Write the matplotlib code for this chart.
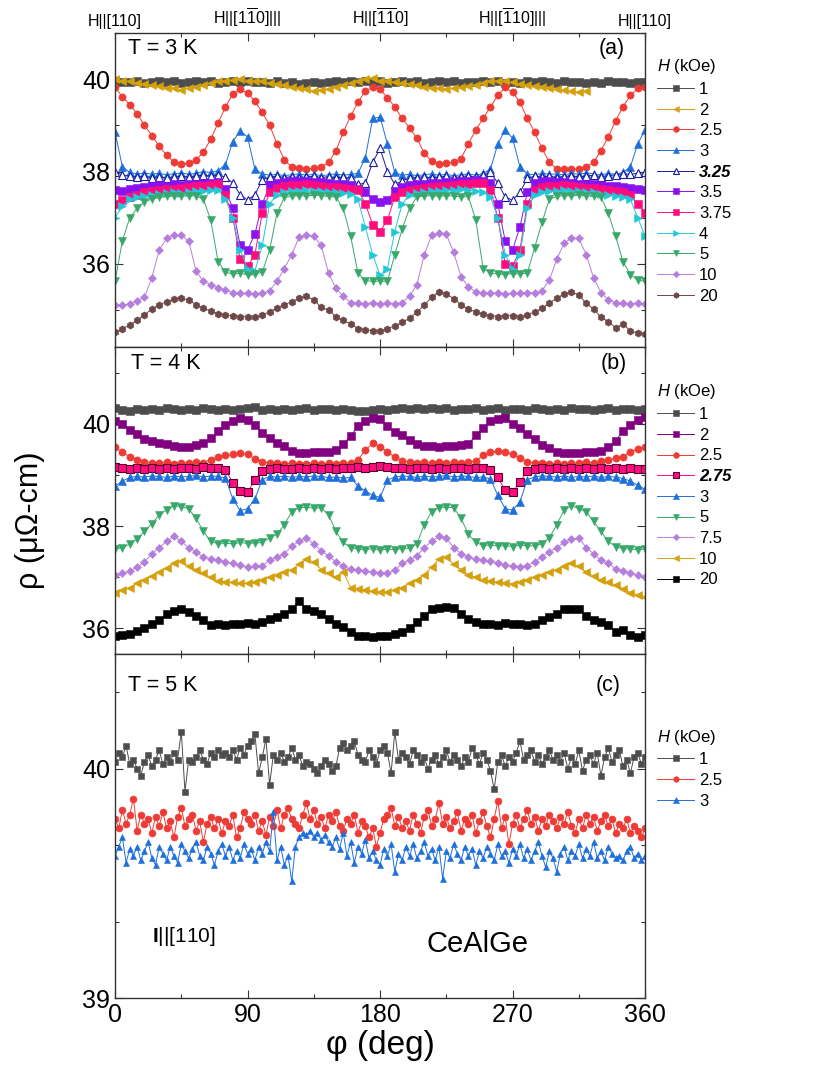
import matplotlib.pyplot as plt
import numpy as np
from matplotlib.ticker import MultipleLocator, AutoMinorLocator

plt.rcParams['font.family'] = 'Liberation Sans'
plt.rcParams['mathtext.fontset'] = 'custom'
plt.rcParams['mathtext.rm'] = 'Liberation Sans'
plt.rcParams['mathtext.it'] = 'Liberation Sans:italic'
plt.rcParams['mathtext.bf'] = 'Liberation Sans:bold'

phi = np.arange(0, 361, 5)
phi_short = np.arange(0, 321, 5)  # 2 kOe run at 3 K stops near 320 deg
phi_fine = np.arange(0, 360.1, 2.5)  # 5 K runs, read on a finer step

top_labels = ["H||[110]", r"H||[1$\overline{1}$0]|||", r"H||[$\overline{11}$0]",
              r"H||[$\overline{1}$10]|||", "H||[110]"]

# ---------------- T = 3 K ----------------
a_1 = [39.96, 39.94, 39.93, 39.95, 39.92, 39.94, 39.97, 39.93, 39.95, 39.92,
       39.94, 39.96, 39.93, 39.95, 39.92, 39.94, 39.97, 39.93, 39.95, 39.93,
       39.94, 39.92, 39.95, 39.91, 39.93, 39.90, 39.92, 39.94, 39.91, 39.93,
       39.95, 39.93, 39.96, 39.94, 39.97, 39.93, 39.95, 39.92, 39.94, 39.96,
       39.93, 39.95, 39.92, 39.94, 39.96, 39.93, 39.95, 39.92, 39.94, 39.93,
       39.96, 39.93, 39.95, 39.91, 39.94, 39.92, 39.95, 39.93, 39.96, 39.94,
       39.92, 39.95, 39.93, 39.94, 39.91, 39.94, 39.92, 39.95, 39.93, 39.94,
       39.92, 39.94, 39.93]
a_2 = [40.00, 39.97, 39.95, 39.92, 39.90, 39.87, 39.85, 39.81, 39.80, 39.77,
       39.80, 39.83, 39.88, 39.91, 39.95, 39.97, 39.98, 40.01, 39.97, 39.95,
       39.96, 39.92, 39.90, 39.87, 39.84, 39.80, 39.78, 39.75, 39.77, 39.79,
       39.84, 39.87, 39.92, 39.95, 40.00, 40.03, 39.97, 39.95, 39.94, 39.91,
       39.90, 39.87, 39.84, 39.81, 39.80, 39.78, 39.80, 39.82, 39.85, 39.88,
       39.92, 39.95, 39.97, 39.95, 39.93, 39.90, 39.88, 39.85, 39.82, 39.80,
       39.78, 39.76, 39.74, 39.72, 39.74]
a_25 = [39.82, 39.62, 39.45, 39.25, 39.00, 38.78, 38.55, 38.35, 38.20, 38.16,
        38.18, 38.25, 38.42, 38.70, 39.05, 39.40, 39.68, 39.78, 39.70, 39.52,
        39.28, 39.00, 38.60, 38.25, 38.10, 38.07, 38.06, 38.07, 38.10, 38.20,
        38.45, 38.85, 39.20, 39.50, 39.75, 39.82, 39.78, 39.60, 39.40, 39.15,
        38.95, 38.72, 38.40, 38.22, 38.17, 38.18, 38.20, 38.28, 38.60, 38.90,
        39.15, 39.40, 39.65, 39.82, 39.72, 39.50, 39.15, 38.85, 38.50, 38.20,
        38.06, 38.05, 38.05, 38.06, 38.10, 38.20, 38.45, 38.75, 39.10, 39.40,
        39.65, 39.80, 39.84]
a_3 = [38.85, 38.10, 37.98, 37.95, 37.97, 37.94, 37.96, 37.93, 37.95, 37.97,
       37.94, 37.96, 38.00, 37.98, 38.02, 38.15, 38.65, 38.88, 38.75, 38.05,
       37.95, 37.92, 37.94, 37.91, 37.93, 37.95, 37.92, 37.94, 37.91, 37.93,
       37.95, 37.92, 37.94, 37.96, 38.30, 39.15, 39.18, 38.60, 37.98, 37.92,
       37.94, 37.91, 37.93, 37.95, 37.92, 37.94, 37.91, 37.93, 37.95, 37.92,
       37.96, 38.05, 38.60, 38.90, 38.72, 38.10, 37.95, 37.93, 37.96, 37.94,
       37.95, 37.93, 37.96, 37.94, 37.97, 37.95, 37.93, 37.96, 37.94, 37.98,
       38.10, 38.60, 38.90]
a_325 = [37.98, 37.93, 37.90, 37.88, 37.90, 37.87, 37.88, 37.86, 37.88, 37.90,
         37.88, 37.90, 37.92, 37.90, 37.92, 37.88, 37.75, 37.50, 37.38, 37.50,
         37.82, 37.88, 37.90, 37.87, 37.89, 37.86, 37.88, 37.90, 37.87, 37.89,
         37.86, 37.88, 37.85, 37.72, 37.75, 38.20, 38.50, 38.00, 37.72, 37.80,
         37.85, 37.87, 37.89, 37.86, 37.88, 37.90, 37.87, 37.89, 37.91, 37.88,
         37.92, 37.98, 37.75, 37.45, 37.38, 37.55, 37.85, 37.90, 37.88, 37.90,
         37.87, 37.89, 37.91, 37.88, 37.90, 37.92, 37.89, 37.91, 37.93, 37.95,
         37.94, 37.96, 37.98]
a_35 = [37.60, 37.58, 37.62, 37.64, 37.66, 37.68, 37.70, 37.69, 37.72, 37.71,
        37.73, 37.74, 37.75, 37.76, 37.78, 37.62, 37.20, 36.40, 36.30, 36.65,
        37.30, 37.70, 37.76, 37.78, 37.80, 37.79, 37.80, 37.78, 37.77, 37.76,
        37.74, 37.72, 37.70, 37.62, 37.55, 37.40, 37.35, 37.38, 37.58, 37.66,
        37.70, 37.72, 37.74, 37.75, 37.76, 37.78, 37.77, 37.79, 37.80, 37.81,
        37.80, 37.75, 37.30, 36.50, 36.30, 36.80, 37.55, 37.75, 37.80, 37.79,
        37.78, 37.77, 37.75, 37.74, 37.73, 37.72, 37.70, 37.69, 37.68, 37.66,
        37.64, 37.62, 37.60]
a_375 = [37.30, 37.38, 37.45, 37.50, 37.55, 37.57, 37.60, 37.62, 37.63, 37.65,
         37.66, 37.68, 37.69, 37.70, 37.72, 37.50, 37.00, 36.10, 35.95, 36.20,
         37.10, 37.55, 37.65, 37.68, 37.70, 37.71, 37.72, 37.70, 37.68, 37.67,
         37.66, 37.65, 37.63, 37.60, 37.30, 36.85, 36.70, 36.95, 37.45, 37.55,
         37.60, 37.62, 37.64, 37.66, 37.68, 37.69, 37.70, 37.72, 37.74, 37.75,
         37.75, 37.60, 37.00, 36.00, 35.95, 36.30, 37.30, 37.60, 37.66, 37.68,
         37.69, 37.70, 37.68, 37.66, 37.65, 37.64, 37.62, 37.60, 37.58, 37.55,
         37.50, 37.30, 37.10]
a_4 = [37.00, 37.25, 37.40, 37.45, 37.48, 37.50, 37.52, 37.53, 37.55, 37.54,
       37.56, 37.57, 37.58, 37.59, 37.60, 37.40, 37.00, 36.30, 35.90, 35.85,
       36.40, 37.30, 37.50, 37.55, 37.57, 37.58, 37.59, 37.58, 37.57, 37.56,
       37.55, 37.53, 37.52, 37.40, 36.80, 36.20, 35.75, 35.90, 36.70, 37.30,
       37.50, 37.53, 37.55, 37.57, 37.58, 37.60, 37.61, 37.62, 37.60, 37.58,
       37.55, 37.45, 37.00, 36.20, 35.90, 36.20, 37.20, 37.50, 37.55, 37.57,
       37.58, 37.59, 37.58, 37.57, 37.56, 37.55, 37.52, 37.50, 37.47, 37.44,
       37.40, 37.00, 36.60]
a_5 = [35.62, 36.50, 37.00, 37.20, 37.35, 37.40, 37.44, 37.46, 37.47, 37.46,
       37.48, 37.47, 37.40, 36.95, 36.05, 35.82, 35.78, 35.80, 35.76, 35.78,
       35.82, 36.30, 37.10, 37.44, 37.46, 37.48, 37.47, 37.49, 37.48, 37.46,
       37.45, 37.20, 36.60, 35.80, 35.64, 35.62, 35.63, 35.62, 36.20, 36.75,
       37.20, 37.45, 37.47, 37.48, 37.46, 37.48, 37.47, 37.45, 37.46, 36.95,
       35.90, 35.80, 35.78, 35.77, 35.79, 35.78, 35.80, 36.35, 36.90, 37.40,
       37.46, 37.48, 37.47, 37.49, 37.48, 37.46, 37.45, 37.10, 36.60, 36.05,
       35.77, 35.65, 35.62]
a_10 = [35.12, 35.10, 35.14, 35.20, 35.28, 35.70, 36.30, 36.55, 36.62, 36.62,
        36.50, 35.85, 35.62, 35.55, 35.48, 35.43, 35.38, 35.36, 35.37, 35.35,
        35.36, 35.42, 35.62, 35.90, 36.20, 36.58, 36.62, 36.60, 36.40, 35.80,
        35.47, 35.30, 35.16, 35.15, 35.14, 35.16, 35.13, 35.15, 35.14, 35.16,
        35.30, 35.55, 36.20, 36.62, 36.66, 36.64, 36.25, 35.72, 35.50, 35.40,
        35.37, 35.36, 35.38, 35.35, 35.37, 35.36, 35.38, 35.37, 35.42, 35.65,
        36.10, 36.45, 36.56, 36.55, 36.20, 35.70, 35.38, 35.22, 35.16, 35.15,
        35.14, 35.15, 35.13]
a_20 = [34.52, 34.60, 34.68, 34.78, 34.90, 35.02, 35.12, 35.18, 35.24, 35.26,
        35.22, 35.12, 35.04, 34.98, 34.92, 34.90, 34.87, 34.86, 34.85, 34.84,
        34.90, 34.96, 35.05, 35.12, 35.18, 35.26, 35.30, 35.22, 35.06, 35.00,
        34.86, 34.78, 34.70, 34.60, 34.57, 34.55, 34.54, 34.60, 34.66, 34.74,
        34.82, 34.96, 35.10, 35.28, 35.40, 35.35, 35.25, 35.12, 35.02, 34.96,
        34.92, 34.88, 34.86, 34.87, 34.88, 34.86, 34.90, 34.96, 35.04, 35.15,
        35.26, 35.35, 35.40, 35.32, 35.15, 35.02, 34.85, 34.75, 34.62, 34.70,
        34.55, 34.50, 34.48]

# ---------------- T = 4 K ----------------
b_1 = [40.30, 40.27, 40.25, 40.28, 40.26, 40.29, 40.27, 40.30, 40.28, 40.26,
       40.29, 40.27, 40.31, 40.28, 40.26, 40.29, 40.27, 40.28, 40.30, 40.32,
       40.26, 40.28, 40.27, 40.29, 40.26, 40.28, 40.30, 40.27, 40.29, 40.28,
       40.26, 40.29, 40.27, 40.25, 40.24, 40.26, 40.28, 40.27, 40.29, 40.30,
       40.28, 40.30, 40.29, 40.31, 40.28, 40.30, 40.27, 40.29, 40.28, 40.30,
       40.27, 40.29, 40.30, 40.26, 40.28, 40.29, 40.27, 40.30, 40.28, 40.26,
       40.29, 40.27, 40.30, 40.28, 40.29, 40.27, 40.28, 40.30, 40.27, 40.29,
       40.28, 40.27, 40.29]
b_2 = [40.05, 40.00, 39.88, 39.80, 39.70, 39.66, 39.62, 39.60, 39.57, 39.55,
       39.55, 39.58, 39.62, 39.72, 39.85, 39.98, 40.06, 40.11, 40.08, 39.98,
       39.82, 39.72, 39.62, 39.56, 39.46, 39.43, 39.42, 39.44, 39.45, 39.44,
       39.48, 39.60, 39.76, 39.95, 40.06, 40.11, 40.10, 39.95, 39.84, 39.78,
       39.68, 39.60, 39.57, 39.56, 39.55, 39.56, 39.57, 39.58, 39.60, 39.78,
       39.92, 40.05, 40.10, 40.11, 40.00, 39.92, 39.80, 39.70, 39.58, 39.52,
       39.45, 39.43, 39.42, 39.43, 39.44, 39.45, 39.47, 39.55, 39.67, 39.85,
       39.98, 40.08, 40.14]
b_25 = [39.54, 39.45, 39.35, 39.30, 39.26, 39.24, 39.23, 39.25, 39.22, 39.24,
        39.23, 39.25, 39.24, 39.30, 39.35, 39.38, 39.40, 39.42, 39.40, 39.32,
        39.26, 39.23, 39.24, 39.22, 39.23, 39.21, 39.22, 39.24, 39.22, 39.23,
        39.22, 39.24, 39.23, 39.30, 39.48, 39.62, 39.55, 39.45, 39.35, 39.28,
        39.26, 39.24, 39.25, 39.23, 39.26, 39.24, 39.25, 39.23, 39.26, 39.28,
        39.38, 39.44, 39.46, 39.45, 39.40, 39.33, 39.26, 39.23, 39.24, 39.22,
        39.23, 39.22, 39.24, 39.23, 39.25, 39.23, 39.28, 39.30, 39.33, 39.36,
        39.45, 39.50, 39.54]
b_275 = [39.15, 39.13, 39.12, 39.14, 39.11, 39.13, 39.12, 39.14, 39.12, 39.13,
         39.14, 39.12, 39.15, 39.13, 39.14, 39.10, 38.85, 38.68, 38.66, 38.90,
         39.08, 39.12, 39.13, 39.11, 39.12, 39.14, 39.12, 39.13, 39.11, 39.13,
         39.12, 39.14, 39.13, 39.15, 39.14, 39.16, 39.18, 39.15, 39.14, 39.13,
         39.12, 39.14, 39.13, 39.11, 39.13, 39.12, 39.14, 39.13, 39.12, 39.14,
         39.13, 39.10, 38.95, 38.70, 38.66, 38.86, 39.08, 39.12, 39.13, 39.11,
         39.13, 39.12, 39.14, 39.12, 39.13, 39.11, 39.13, 39.12, 39.14, 39.12,
         39.13, 39.11, 39.12]
b_3 = [38.78, 38.88, 38.95, 38.97, 38.96, 38.98, 38.97, 38.95, 38.98, 38.96,
       38.97, 38.99, 38.96, 38.98, 38.97, 38.94, 38.53, 38.30, 38.34, 38.53,
       38.91, 38.97, 38.96, 38.98, 38.95, 38.97, 38.96, 38.98, 38.97, 38.95,
       38.96, 38.94, 38.95, 38.78, 38.69, 38.60, 38.56, 38.90, 38.96, 38.98,
       38.97, 38.95, 38.98, 38.96, 38.97, 38.99, 38.96, 38.98, 38.97, 38.95,
       38.96, 38.92, 38.60, 38.34, 38.31, 38.47, 38.91, 38.96, 38.98, 38.97,
       38.96, 38.98, 38.95, 38.97, 38.96, 38.98, 38.95, 38.97, 38.96, 38.93,
       38.88, 38.80, 38.72]
b_5 = [37.55, 37.58, 37.65, 37.75, 37.90, 38.05, 38.22, 38.32, 38.40, 38.38,
       38.34, 38.15, 37.90, 37.70, 37.66, 37.67, 37.65, 37.68, 37.66, 37.67,
       37.68, 37.77, 37.84, 38.03, 38.28, 38.36, 38.37, 38.35, 38.36, 38.22,
       37.90, 37.68, 37.58, 37.55, 37.54, 37.56, 37.53, 37.55, 37.54, 37.56,
       37.57, 37.65, 38.03, 38.28, 38.36, 38.37, 38.36, 38.15, 37.84, 37.68,
       37.62, 37.63, 37.61, 37.62, 37.60, 37.63, 37.62, 37.61, 37.66, 37.77,
       38.03, 38.31, 38.40, 38.34, 38.28, 38.09, 37.90, 37.70, 37.60, 37.56,
       37.55, 37.54, 37.55]
b_75 = [37.05, 37.08, 37.12, 37.20, 37.30, 37.46, 37.58, 37.70, 37.80, 37.70,
        37.58, 37.49, 37.40, 37.36, 37.33, 37.30, 37.27, 37.24, 37.20, 37.22,
        37.23, 37.33, 37.40, 37.46, 37.61, 37.70, 37.77, 37.65, 37.52, 37.42,
        37.30, 37.22, 37.16, 37.14, 37.12, 37.10, 37.08, 37.08, 37.14, 37.27,
        37.33, 37.42, 37.58, 37.70, 37.80, 37.77, 37.58, 37.46, 37.40, 37.35,
        37.33, 37.31, 37.28, 37.24, 37.22, 37.21, 37.23, 37.30, 37.40, 37.49,
        37.58, 37.68, 37.74, 37.77, 37.58, 37.46, 37.33, 37.27, 37.17, 37.12,
        37.08, 37.04, 37.00]
b_10 = [36.70, 36.75, 36.80, 36.88, 36.95, 37.02, 37.10, 37.18, 37.28, 37.32,
        37.22, 37.15, 37.08, 37.00, 36.92, 36.91, 36.90, 36.89, 36.88, 36.90,
        36.95, 37.00, 37.05, 37.10, 37.15, 37.25, 37.35, 37.30, 37.15, 37.08,
        37.00, 37.10, 36.80, 36.78, 36.75, 36.73, 36.72, 36.71, 36.75, 36.80,
        36.88, 36.95, 37.05, 37.20, 37.35, 37.40, 37.25, 37.15, 37.05, 37.00,
        36.95, 36.92, 36.90, 36.89, 36.87, 36.90, 36.95, 37.00, 37.05, 37.10,
        37.15, 37.22, 37.27, 37.22, 37.10, 37.02, 36.95, 36.90, 36.85, 36.78,
        36.70, 36.66, 36.62]
b_20 = [35.85, 35.87, 35.90, 35.95, 36.00, 36.08, 36.16, 36.28, 36.35, 36.38,
        36.32, 36.25, 36.16, 36.06, 36.08, 36.07, 36.09, 36.08, 36.10, 36.08,
        36.12, 36.19, 36.22, 36.28, 36.38, 36.54, 36.38, 36.35, 36.28, 36.19,
        36.09, 36.03, 35.94, 35.86, 35.85, 35.84, 35.85, 35.86, 35.90, 35.94,
        36.00, 36.13, 36.25, 36.38, 36.40, 36.41, 36.40, 36.28, 36.19, 36.13,
        36.08, 36.09, 36.07, 36.10, 36.08, 36.09, 36.07, 36.08, 36.16, 36.22,
        36.28, 36.38, 36.38, 36.38, 36.25, 36.16, 36.13, 36.06, 35.94, 35.97,
        35.87, 35.84, 35.87]

# ---------------- T = 5 K (2.5 deg step) ----------------
c_1 = [40.03, 40.07, 40.05, 40.10, 40.02, 40.04, 40.00, 39.97, 40.03, 40.06,
       40.01, 40.04, 40.08, 40.02, 40.05, 40.03, 40.07, 40.04, 40.16, 39.90,
       40.04, 40.03, 40.05, 40.08, 40.04, 40.02, 40.07, 40.05, 40.08, 40.06,
       40.07, 40.05, 40.08, 40.04, 40.09, 40.06, 40.10, 40.12, 40.15, 39.98,
       40.05, 40.13, 39.93, 40.06, 40.04, 40.07, 40.03, 40.05, 40.09, 40.04,
       40.06, 40.01, 40.03, 40.02, 40.00, 39.98, 40.01, 40.04, 40.02, 39.99,
       40.01, 40.09, 40.11, 40.08, 40.10, 40.12, 40.06, 40.04, 40.03, 40.08,
       40.05, 40.02, 40.08, 40.10, 40.07, 39.98, 40.16, 40.04, 40.07, 40.05,
       40.02, 40.08, 40.06, 40.03, 40.05, 40.00, 40.04, 40.06, 40.02, 40.05,
       40.08, 40.03, 40.06, 40.04, 40.01, 40.05, 40.03, 40.09, 40.06, 40.02,
       40.07, 40.04, 39.99, 39.91, 40.03, 40.06, 40.01, 40.05, 40.03, 40.07,
       40.12, 40.04, 40.06, 40.08, 40.03, 40.06, 40.02, 40.05, 40.08, 40.04,
       40.06, 40.03, 40.07, 40.00, 40.05, 40.02, 40.08, 39.99, 40.04, 40.06,
       40.02, 40.07, 39.97, 40.05, 40.09, 40.03, 40.06, 40.08, 40.01, 40.04,
       39.98, 40.05, 40.07, 40.02, 40.05]
c_25 = [39.78, 39.74, 39.82, 39.76, 39.80, 39.87, 39.73, 39.80, 39.76, 39.78,
        39.72, 39.79, 39.75, 39.81, 39.74, 39.77, 39.70, 39.79, 39.83, 39.75,
        39.78, 39.80, 39.73, 39.77, 39.68, 39.76, 39.79, 39.74, 39.78, 39.72,
        39.77, 39.75, 39.80, 39.70, 39.74, 39.81, 39.78, 39.76, 39.80, 39.73,
        39.77, 39.71, 39.79, 39.75, 39.82, 39.74, 39.80, 39.83, 39.78, 39.76,
        39.74, 39.80, 39.85, 39.78, 39.82, 39.76, 39.79, 39.74, 39.80, 39.77,
        39.81, 39.75, 39.73, 39.78, 39.76, 39.80, 39.72, 39.77, 39.75, 39.70,
        39.74, 39.66, 39.72, 39.78, 39.80, 39.83, 39.75, 39.79, 39.74, 39.77,
        39.73, 39.80, 39.76, 39.72, 39.79, 39.82, 39.75, 39.78, 39.85, 39.76,
        39.79, 39.74, 39.77, 39.81, 39.73, 39.78, 39.76, 39.80, 39.72, 39.77,
        39.81, 39.75, 39.70, 39.78, 39.86, 39.74, 39.79, 39.67, 39.76, 39.80,
        39.74, 39.78, 39.82, 39.76, 39.79, 39.73, 39.78, 39.75, 39.80, 39.77,
        39.74, 39.79, 39.76, 39.81, 39.75, 39.72, 39.78, 39.74, 39.80, 39.76,
        39.79, 39.73, 39.77, 39.80, 39.75, 39.78, 39.72, 39.76, 39.74, 39.78,
        39.72, 39.75, 39.73, 39.70, 39.74]
c_3 = [39.62, 39.66, 39.70, 39.59, 39.65, 39.62, 39.66, 39.60, 39.64, 39.68,
       39.61, 39.58, 39.66, 39.63, 39.60, 39.66, 39.62, 39.59, 39.67, 39.64,
       39.61, 39.65, 39.68, 39.62, 39.60, 39.66, 39.63, 39.58, 39.64, 39.67,
       39.62, 39.66, 39.60, 39.64, 39.61, 39.67, 39.63, 39.65, 39.60, 39.66,
       39.63, 39.68, 39.64, 39.81, 39.60, 39.66, 39.58, 39.62, 39.51, 39.66,
       39.70, 39.72, 39.71, 39.73, 39.70, 39.72, 39.69, 39.71, 39.68, 39.66,
       39.70, 39.65, 39.72, 39.62, 39.68, 39.59, 39.66, 39.63, 39.69, 39.61,
       39.64, 39.60, 39.58, 39.65, 39.62, 39.67, 39.55, 39.63, 39.60, 39.66,
       39.62, 39.67, 39.61, 39.64, 39.68, 39.62, 39.65, 39.60, 39.66, 39.52,
       39.64, 39.61, 39.67, 39.63, 39.60, 39.66, 39.62, 39.65, 39.58, 39.64,
       39.61, 39.66, 39.63, 39.60, 39.67, 39.62, 39.64, 39.59, 39.65, 39.62,
       39.67, 39.61, 39.65, 39.60, 39.64, 39.68, 39.62, 39.57, 39.64, 39.61,
       39.55, 39.63, 39.66, 39.60, 39.64, 39.62, 39.67, 39.61, 39.65, 39.62,
       39.68, 39.61, 39.64, 39.60, 39.66, 39.63, 39.61, 39.62, 39.60, 39.64,
       39.66, 39.61, 39.63, 39.60, 39.62]

GRAY = '#4d4d4d'
GOLD = '#d4a00c'
RED = '#ee3b35'
BLUE = '#1f6fdb'
NAVY = '#1a1aa0'
VIOLET = '#8a12f0'
PINK = '#ff0d7f'
CYAN = '#20c8d8'
GREEN = '#38a86a'
LAVENDER = '#b57edc'
BROWN = '#6e4848'
PURPLE = '#800080'

# (label, x, y, color, marker, face, edge)
series_a = [
    ("1", phi, a_1, GRAY, 's', None, None),
    ("2", phi_short, a_2, GOLD, '<', None, None),
    ("2.5", phi, a_25, RED, 'o', None, None),
    ("3", phi, a_3, BLUE, '^', None, None),
    ("3.25", phi, a_325, NAVY, '^', 'white', None),
    ("3.5", phi, a_35, VIOLET, 's', None, None),
    ("3.75", phi, a_375, PINK, 's', None, None),
    ("4", phi, a_4, CYAN, '>', None, None),
    ("5", phi, a_5, GREEN, 'v', None, None),
    ("10", phi, a_10, LAVENDER, 'D', None, None),
    ("20", phi, a_20, BROWN, 'h', None, None),
]
series_b = [
    ("1", phi, b_1, GRAY, 's', None, None),
    ("2", phi, b_2, PURPLE, 's', None, None),
    ("2.5", phi, b_25, RED, 'o', None, None),
    ("2.75", phi, b_275, PINK, 's', None, '#5a0030'),
    ("3", phi, b_3, BLUE, '^', None, None),
    ("5", phi, b_5, GREEN, 'v', None, None),
    ("7.5", phi, b_75, LAVENDER, 'D', None, None),
    ("10", phi, b_10, GOLD, '<', None, None),
    ("20", phi, b_20, 'black', 's', None, None),
]
series_c = [
    ("1", phi_fine, c_1, GRAY, 's', None, None),
    ("2.5", phi_fine, c_25, RED, 'o', None, None),
    ("3", phi_fine, c_3, BLUE, '^', None, None),
]

fig = plt.figure(figsize=(8.3, 10.75), dpi=100)
left, width = 0.1386, 0.6386
ax_a = fig.add_axes([left, 0.6772, width, 0.2921])
ax_b = fig.add_axes([left, 0.3916, width, 0.2856])
ax_c = fig.add_axes([left, 0.0716, width, 0.3200])


def draw(ax, series, ms=5.2):
    for label, x, y, color, marker, face, edge in series:
        size = ms * 0.8 if marker == 'D' else ms
        ax.plot(x, y, color=color, lw=0.7, marker=marker, ms=size,
                mfc=face if face else color, mec=edge if edge else color,
                mew=0.8 if (face or edge) else 0.4, label=label)


def style(ax, ylim, major, minor_n):
    ax.set_xlim(0, 360)
    ax.set_ylim(*ylim)
    ax.xaxis.set_major_locator(MultipleLocator(90))
    ax.xaxis.set_minor_locator(MultipleLocator(45))
    ax.yaxis.set_major_locator(MultipleLocator(major))
    ax.yaxis.set_minor_locator(AutoMinorLocator(minor_n))
    ax.tick_params(which='both', direction='in', top=True, right=True,
                   width=0.8, colors='#333333', labelcolor='black')
    ax.tick_params(which='major', length=6, labelsize=18)
    ax.tick_params(which='minor', length=3)
    for s in ax.spines.values():
        s.set_color('#333333')
        s.set_linewidth(1.0)


def add_legend(ax, y_top):
    leg = ax.legend(loc='upper left', bbox_to_anchor=(0.782, y_top),
                    bbox_transform=fig.transFigure, frameon=False,
                    title=r"$H$ (kOe)", title_fontsize=12, fontsize=12,
                    handlelength=2.2, handletextpad=0.3, labelspacing=0.34,
                    borderpad=0, markerscale=0.8, alignment='left')
    for t in leg.get_texts():
        if t.get_text() in ("3.25", "2.75"):
            t.set_fontweight('bold')
            t.set_fontstyle('italic')
    return leg


draw(ax_a, series_a)
draw(ax_b, series_b)
draw(ax_c, series_c, ms=5.0)

style(ax_a, (34.2, 41), 2, 2)
style(ax_b, (35.5, 41.5), 2, 2)
style(ax_c, (39, 40.5), 1, 3)

ax_a.set_xticks([0, 90, 180, 270, 360])
ax_a.set_xticklabels(top_labels)
ax_a.tick_params(axis='x', which='major', labelbottom=False, labeltop=True,
                 labelsize=11.5, pad=3)
ax_b.tick_params(axis='x', labelbottom=False)

add_legend(ax_a, 0.9545)
add_legend(ax_b, 0.652)
add_legend(ax_c, 0.331)

ax_a.text(0.025, 0.985, "T = 3 K", transform=ax_a.transAxes, fontsize=15.5, va='top')
ax_a.text(0.962, 0.985, "(a)", transform=ax_a.transAxes, fontsize=15.5, va='top', ha='right')
ax_b.text(0.03, 0.982, "T = 4 K", transform=ax_b.transAxes, fontsize=15.5, va='top')
ax_b.text(0.966, 0.982, "(b)", transform=ax_b.transAxes, fontsize=15.5, va='top', ha='right')
ax_c.text(0.024, 0.94, "T = 5 K", transform=ax_c.transAxes, fontsize=15.5, va='top')
ax_c.text(0.953, 0.94, "(c)", transform=ax_c.transAxes, fontsize=15.5, va='top', ha='right')

ax_c.text(0.13, 0.18, r"$\mathbf{I}$||[110]", transform=ax_c.transAxes, fontsize=15,
          ha='center', va='center')
ax_c.text(0.683, 0.157, "CeAlGe", transform=ax_c.transAxes, fontsize=21,
          ha='center', va='center')

ax_c.set_xlabel("φ (deg)", fontsize=24, labelpad=2)
fig.text(0.036, 0.516, "ρ (μΩ-cm)", rotation=90, fontsize=22, ha='center', va='center')

fig.savefig("out.png", dpi=100)
